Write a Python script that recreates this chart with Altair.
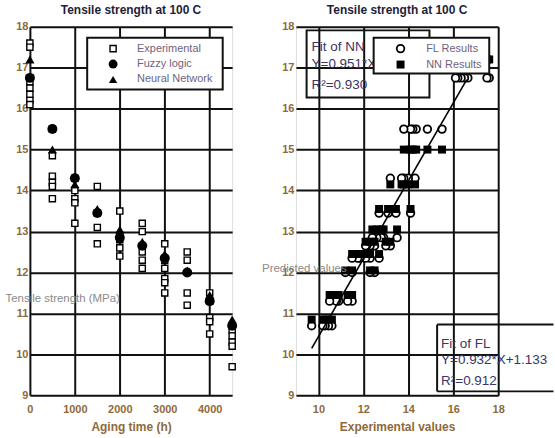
import altair as alt
import pandas as pd

FONT = "Liberation Sans"
LABEL_COLOR = "#8e6a3a"
TITLE_COLOR = "#1e1e38"
LEG_COLOR = "#6e6280"
FIT_COLOR = "#3a3468"
GRID = "#111111"

# ---- data ----
times = [0, 500, 1000, 1500, 2000, 2500, 3000, 3500, 4000, 4500]
fuzzy = [16.75, 15.5, 14.3, 13.45, 12.85, 12.65, 12.35, 12.0, 11.3, 10.7]
neural = [17.2, 15.0, 14.15, 13.55, 13.05, 12.75, 12.45, 12.05, 11.45, 10.85]

exp_time = ([0] * 7 + [500] * 6 + [1000] * 5 + [1500] * 4 + [2000] * 5 +
            [2500] * 5 + [3000] * 6 + [3500] * 4 + [4000] * 5 + [4500] * 5)
exp_value = [17.6, 17.5, 16.65, 16.5, 16.35, 16.2, 16.1,
             15.5, 14.85, 14.35, 14.2, 14.1, 13.8,
             14.3, 14.0, 13.8, 13.7, 13.2,
             14.1, 13.45, 13.1, 12.7,
             13.5, 12.9, 12.8, 12.6, 12.4,
             13.2, 13.0, 12.5, 12.3, 12.1,
             12.7, 12.3, 12.1, 11.85, 11.75, 11.5,
             12.5, 12.3, 11.5, 11.2,
             11.5, 11.3, 10.9, 10.8, 10.5,
             10.6, 10.45, 10.3, 10.2, 9.7]

fit_slope = 0.951
fit_intercept = 0.92
fit_x = [9.7, 16.6]

left_x_ticks = [0, 1000, 2000, 3000, 4000]
right_x_ticks = [10, 12, 14, 16, 18]
y_ticks = [9, 10, 11, 12, 13, 14, 15, 16, 17, 18]

title_text = "Tensile strength at 100 C"

# ---- tables ----
pred = pd.DataFrame({"time": times, "fuzzy": fuzzy, "neural": neural})
exp = pd.DataFrame({"time": exp_time, "value": exp_value})
pairs = exp.merge(pred, on="time")
fit = pd.DataFrame({"x": fit_x})
fit["y"] = fit_slope * fit["x"] + fit_intercept
one = pd.DataFrame({"a": [0]})

W, H = 203, 370


def axis(values, title):
    return alt.Axis(values=values, title=title, format="d", grid=True,
                    gridColor=GRID, gridWidth=2, gridOpacity=1, domain=False,
                    ticks=False, labelFont=FONT, labelFontSize=11,
                    labelFontWeight="bold", labelColor=LABEL_COLOR,
                    labelPadding=8, titleFont=FONT, titleFontSize=12,
                    titleFontWeight="bold", titleColor=LABEL_COLOR,
                    titlePadding=7, labelFlush=False)


def yaxis():
    return alt.Axis(values=y_ticks, title=None, format="d", grid=True,
                    gridColor=GRID, gridWidth=2, gridOpacity=1, domain=False,
                    ticks=False, labelFont=FONT, labelFontSize=11,
                    labelFontWeight="bold", labelColor=LABEL_COLOR,
                    labelPadding=2)


ysc = alt.Scale(domain=[9, 18], nice=False)

# ---------------- left panel ----------------
LX = alt.X("time:Q", scale=alt.Scale(domain=[0, 4500], nice=False),
           axis=axis(left_x_ticks, "Aging time (h)"))
left_exp = alt.Chart(exp).mark_point(shape="square", filled=True, fill="white",
                                     stroke="black", strokeWidth=1.4,
                                     size=38, opacity=1).encode(
    x=LX, y=alt.Y("value:Q", scale=ysc, axis=yaxis()))
left_fl = alt.Chart(pred).mark_point(shape="circle", filled=True, color="black",
                                     size=100, opacity=1).encode(
    x=LX, y=alt.Y("fuzzy:Q", scale=ysc, axis=yaxis()))
left_nn = alt.Chart(pred).mark_point(shape="triangle-up", filled=True,
                                     color="black", size=85, opacity=1).encode(
    x=LX, y=alt.Y("neural:Q", scale=ysc, axis=yaxis()))

ylab_left = alt.Chart(one).mark_text(text="Tensile strength (MPa)", align="left",
                                     baseline="middle", font=FONT, fontSize=11.5,
                                     color="#8a8a8a").encode(
    x=alt.value(-24.5), y=alt.value(273))

lg_box = alt.Chart(one).mark_rect(fill="white", stroke=GRID,
                                  strokeWidth=2).encode(
    x=alt.value(57.5), x2=alt.value(193.5), y=alt.value(11), y2=alt.value(63))
lg_sq = alt.Chart(one).mark_point(shape="square", filled=True, fill="white",
                                  stroke="black", strokeWidth=1.4, size=38,
                                  opacity=1).encode(x=alt.value(83.5), y=alt.value(22))
lg_ci = alt.Chart(one).mark_point(shape="circle", filled=True, color="black",
                                  size=80, opacity=1).encode(x=alt.value(83.5), y=alt.value(37.5))
lg_tr = alt.Chart(one).mark_point(shape="triangle-up", filled=True, color="black",
                                  size=70, opacity=1).encode(x=alt.value(83.5), y=alt.value(53))


def ltext(txt, x, y, size=11, color=LEG_COLOR):
    return alt.Chart(one).mark_text(text=txt, align="left", baseline="middle",
                                    font=FONT, fontSize=size, color=color).encode(
        x=alt.value(x), y=alt.value(y))


def prule(x1, x2, y1, y2):
    return alt.Chart(one).mark_rule(color=GRID, strokeWidth=2).encode(
        x=alt.value(x1), x2=alt.value(x2), y=alt.value(y1), y2=alt.value(y2))


left = alt.layer(
    left_exp, left_fl, left_nn, ylab_left, lg_box, lg_sq, lg_ci, lg_tr,
    ltext("Experimental", 107.5, 22), ltext("Fuzzy logic", 107.5, 37.5),
    ltext("Neural Network", 107.5, 53),
).properties(width=W, height=H, title=alt.TitleParams(
    title_text, font=FONT, fontSize=12, fontWeight="bold", color=TITLE_COLOR,
    offset=4))

# ---------------- right panel ----------------
RX = alt.X("value:Q", scale=alt.Scale(domain=[9, 18], nice=False),
           axis=axis(right_x_ticks, "Experimental values"))
right_fl = alt.Chart(pairs).mark_point(shape="circle", filled=True, fill="white",
                                       stroke="black", strokeWidth=1.8, size=58,
                                       opacity=1).encode(
    x=RX, y=alt.Y("fuzzy:Q", scale=ysc, axis=yaxis()))
right_nn = alt.Chart(pairs).mark_point(shape="square", filled=True, color="black",
                                       size=64, opacity=1).encode(
    x=RX, y=alt.Y("neural:Q", scale=ysc, axis=yaxis()))
fit_line = alt.Chart(fit).mark_line(color="black", strokeWidth=1.6).encode(
    x=alt.X("x:Q", scale=alt.Scale(domain=[9, 18], nice=False),
            axis=axis(right_x_ticks, "Experimental values")),
    y=alt.Y("y:Q", scale=ysc, axis=yaxis()))

ylab_right = alt.Chart(one).mark_text(text="Predicted values", align="left",
                                      baseline="middle", font=FONT, fontSize=11.5,
                                      color="#8a8a8a").encode(
    x=alt.value(-34), y=alt.value(243))

nn_box = alt.Chart(one).mark_rect(fill=None, stroke=GRID, strokeWidth=2).encode(
    x=alt.value(10.7), x2=alt.value(134), y=alt.value(3.7), y2=alt.value(71))
rg_box = alt.Chart(one).mark_rect(fill="white", stroke=GRID,
                                  strokeWidth=2).encode(
    x=alt.value(78), x2=alt.value(194), y=alt.value(11), y2=alt.value(47))
rg_ci = alt.Chart(one).mark_point(shape="circle", filled=True, fill="white",
                                  stroke="black", strokeWidth=1.8, size=58,
                                  opacity=1).encode(x=alt.value(105), y=alt.value(22))
rg_sq = alt.Chart(one).mark_point(shape="square", filled=True, color="black",
                                  size=64, opacity=1).encode(x=alt.value(105), y=alt.value(38))

right = alt.layer(
    right_fl, right_nn, fit_line, ylab_right, nn_box,
    ltext("Fit of NN", 15.7, 20, 13.5, FIT_COLOR),
    ltext("Y=0.951*X+0.920", 15.7, 37, 13.5, FIT_COLOR),
    ltext("R²=0.930", 15.7, 59, 13.5, FIT_COLOR),
    rg_box, rg_ci, rg_sq,
    ltext("FL Results", 130.7, 22), ltext("NN Results", 130.7, 38),
    prule(141.7, 258.5, 299, 299), prule(141.7, 258.5, 366, 366),
    prule(141.7, 141.7, 299, 366),
    ltext("Fit of FL", 145.7, 318, 13.5, FIT_COLOR),
    ltext("Y=0.932*X+1.133", 145.7, 335, 13.5, FIT_COLOR),
    ltext("R²=0.912", 145.7, 356, 13.5, FIT_COLOR),
).properties(width=W, height=H, title=alt.TitleParams(
    title_text, font=FONT, fontSize=12, fontWeight="bold", color=TITLE_COLOR,
    offset=4))

chart = alt.HConcatChart(hconcat=[left, right], spacing=64, bounds="flush").properties(
    padding={"left": 5, "top": 2, "right": 0, "bottom": 0}
).configure_view(stroke=GRID, strokeWidth=2).configure_axis(
    gridColor=GRID, gridOpacity=1).configure(background="white")

chart.save("out.html", embed_options={"renderer": "svg", "actions": False})
